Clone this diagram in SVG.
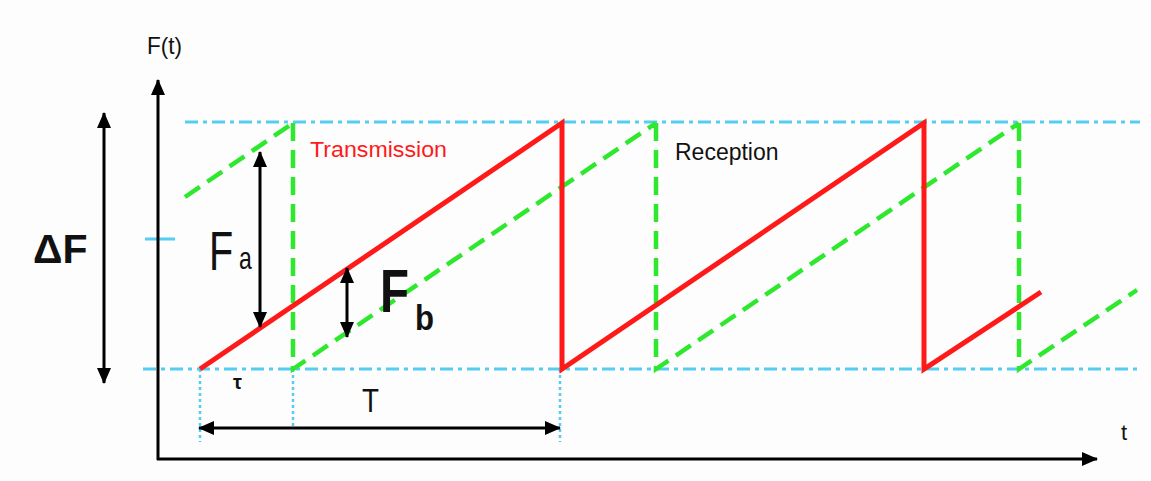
<svg xmlns="http://www.w3.org/2000/svg" width="1151" height="481" viewBox="0 0 1151 481">
<style>
.ax{stroke:#000;stroke-width:3;fill:none}
.cy{stroke:#55cdf0;stroke-width:3;fill:none;stroke-dasharray:13 5 4 5}
.dot{stroke:#55cdf0;stroke-width:2.5;fill:none;stroke-dasharray:3 3}
.gr{stroke:#2ee82e;stroke-width:4.5;fill:none;stroke-dasharray:18 9}
.rd{stroke:#ff1a1a;stroke-width:5;fill:none;stroke-linejoin:miter}
.t{font-family:"Liberation Sans",Arial,sans-serif;fill:#111}
</style>
<defs>
<marker id="ah" viewBox="0 0 16 14" refX="15" refY="7" markerWidth="16" markerHeight="14" markerUnits="userSpaceOnUse" orient="auto-start-reverse">
<path d="M0,0 L16,7 L0,14 z" fill="#000"/>
</marker>
</defs>
<rect width="1151" height="481" fill="#fdfdfd"/>
<g id="guides">
<line class="cy" x1="185" y1="122" x2="1140" y2="122"/>
<line class="cy" x1="143" y1="369" x2="1140" y2="369"/>
<line class="cy" x1="145" y1="239" x2="175" y2="239" style="stroke-dasharray:none"/>
<line class="dot" x1="200" y1="369" x2="200" y2="442"/>
<line class="dot" x1="293" y1="369" x2="293" y2="428"/>
<line class="dot" x1="560" y1="369" x2="560" y2="442"/>
</g>
<g id="axes">
<line class="ax" x1="158" y1="460" x2="158" y2="80" marker-end="url(#ah)"/>
<line class="ax" x1="157" y1="459" x2="1097" y2="459" marker-end="url(#ah)"/>
</g>
<g id="reception">
<path class="gr" d="M185,197 L293,123 M293,123 L293,369 L656,123 M656,123 L656,369 L1019,123 M1019,123 L1019,369 L1137,290"/>
</g>
<g id="transmission">
<path class="rd" d="M200,369 L562,123 L562,369 L924,123 L924,369 L1041,292"/>
</g>
<g id="connectors">
<line class="ax" x1="104" y1="113" x2="104" y2="383" marker-start="url(#ah)" marker-end="url(#ah)"/>
<line class="ax" x1="260" y1="152" x2="260" y2="327" marker-start="url(#ah)" marker-end="url(#ah)"/>
<line class="ax" x1="347" y1="268" x2="347" y2="337" marker-start="url(#ah)" marker-end="url(#ah)"/>
<line class="ax" x1="199" y1="428" x2="560" y2="428" marker-start="url(#ah)" marker-end="url(#ah)"/>
</g>
<g id="labels">
<text class="t" x="147" y="54" font-size="24" textLength="35" lengthAdjust="spacingAndGlyphs">F(t)</text>
<text class="t" x="1121" y="440" font-size="22">t</text>
<text class="t" x="33" y="263" font-size="41" font-weight="bold">ΔF</text>
<text class="t" x="310" y="157" font-size="22" style="fill:#ff1a1a" textLength="137" lengthAdjust="spacingAndGlyphs">Transmission</text>
<text class="t" x="675" y="160" font-size="23">Reception</text>
<text class="t" transform="translate(209,270) scale(0.72,1)" x="0" y="0" font-size="55">F<tspan font-size="32" dx="8" dy="-1">a</tspan></text>
<text class="t" x="380" y="312" font-size="61" font-weight="bold" textLength="29" lengthAdjust="spacingAndGlyphs">F</text>
<text class="t" x="415" y="330" font-size="35" font-weight="bold" textLength="19" lengthAdjust="spacingAndGlyphs">b</text>
<text class="t" x="233" y="389" font-size="20" font-weight="bold">τ</text>
<text class="t" x="362" y="412" font-size="33" textLength="17" lengthAdjust="spacingAndGlyphs">T</text>
</g>
</svg>
